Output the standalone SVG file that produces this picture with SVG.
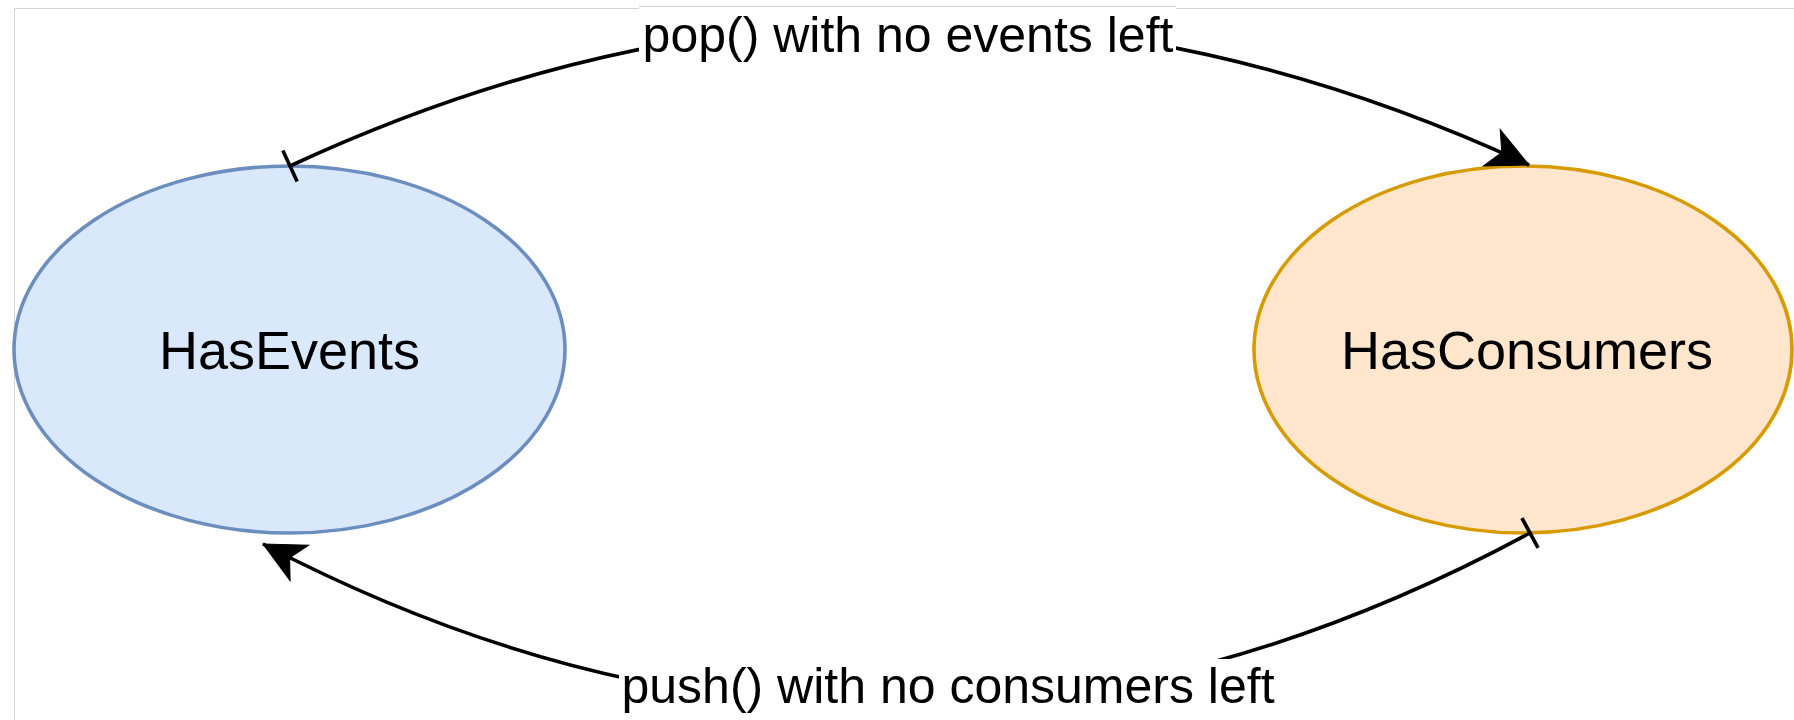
<svg xmlns="http://www.w3.org/2000/svg" width="1794" height="720" viewBox="0 0 1794 720">
  <style>
    .frame { stroke: #d4d4d4; stroke-width: 1; fill: none; }
    .node-text { font-family: "Liberation Sans", Arial, Helvetica, sans-serif; font-size: 54px; fill: #000000; text-anchor: middle; }
    .edge-label { font-family: "Liberation Sans", Arial, Helvetica, sans-serif; font-size: 50px; fill: #000000; text-anchor: middle; }
    .edge { fill: none; stroke: #000000; stroke-width: 3.6; }
    .label-bg { fill: #ffffff; stroke: none; }
  </style>
  <defs>
    <marker id="arrow" markerUnits="userSpaceOnUse" markerWidth="50" markerHeight="50" viewBox="-45 -25 50 50" refX="0" refY="0" orient="auto">
      <path d="M 0 0 L -41 -20 L -30 0 L -41 20 Z" fill="#000000" stroke="#000000" stroke-width="1"/>
    </marker>
    <marker id="tick" markerUnits="userSpaceOnUse" markerWidth="40" markerHeight="40" viewBox="-20 -20 40 40" refX="0" refY="0" orient="auto">
      <line x1="0" y1="-17" x2="0" y2="17" stroke="#000000" stroke-width="3.6"/>
    </marker>
  </defs>
  <rect x="0" y="0" width="1794" height="720" fill="#ffffff"/>
  <g id="frame">
    <line class="frame" x1="14.5" y1="8.5" x2="1794" y2="8.5"/>
    <line class="frame" x1="14.5" y1="8.5" x2="14.5" y2="720"/>
  </g>
  <g id="node-hasevents">
    <ellipse cx="289.5" cy="349.5" rx="275.5" ry="183.5" fill="#dae8fc" stroke="#6c8ebf" stroke-width="3.6"/>
    <text class="node-text" x="289.5" y="369">HasEvents</text>
  </g>
  <g id="node-hasconsumers">
    <ellipse cx="1523" cy="349.5" rx="269" ry="183.5" fill="#ffe6cc" stroke="#d79b00" stroke-width="3.6"/>
    <text class="node-text" x="1527" y="369">HasConsumers</text>
  </g>
  <g id="connectors">
    <path class="edge" d="M 290 166 Q 910 -122 1529 165" marker-start="url(#tick)" marker-end="url(#arrow)"/>
    <path class="edge" d="M 1530 533 Q 897 875 263 544" marker-start="url(#tick)" marker-end="url(#arrow)"/>
    <g id="label-pop">
      <rect class="label-bg" x="639" y="6" width="537" height="60"/>
      <line class="frame" x1="639" y1="6.5" x2="1176" y2="6.5"/>
      <text class="edge-label" x="908" y="52">pop() with no events left</text>
    </g>
    <g id="label-push">
      <rect class="label-bg" x="619" y="659" width="658" height="61"/>
      <text class="edge-label" x="948" y="703">push() with no consumers left</text>
    </g>
  </g>
</svg>
